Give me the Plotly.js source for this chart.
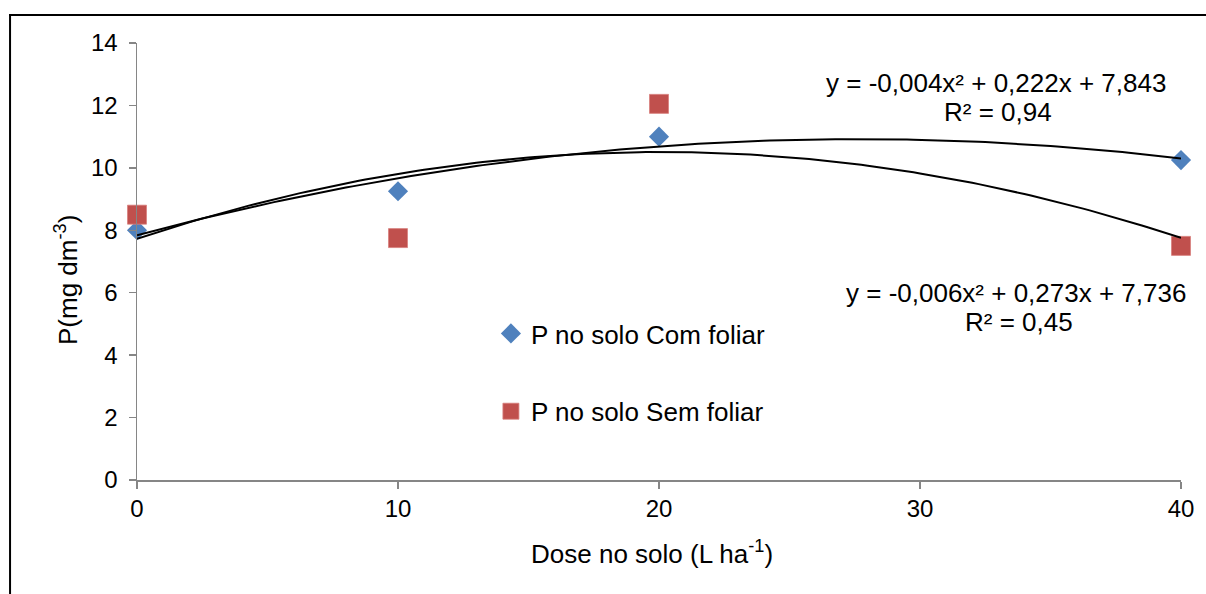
<!DOCTYPE html>
<html>
<head>
<meta charset="utf-8">
<script src="https://cdn.plot.ly/plotly-3.0.1.min.js"></script>
<style>
  html, body { margin: 0; padding: 0; background: #ffffff; }
  #chart { width: 1206px; height: 594px; }
</style>
</head>
<body>
<div id="chart"></div>
<script>
// ---- Data ----
const doses = [0, 10, 20, 40];
const comFoliar = [8.0, 9.25, 11.0, 10.25];
const semFoliar = [8.5, 7.75, 12.05, 7.5];
const seriesNames = ['P no solo Com foliar', 'P no solo Sem foliar'];
const eqComFoliar = ['y = -0,004x² + 0,222x + 7,843', 'R² = 0,94'];
const eqSemFoliar = ['y = -0,006x² + 0,273x + 7,736', 'R² = 0,45'];
const xTitle = 'Dose no solo (L ha<sup>-1</sup>)';
const yTitle = 'P(mg dm<sup>-3</sup>)';

// Quadratic least-squares fit (Excel polynomial trendline, order 2)
function quadFit(xs, ys) {
  let s0 = xs.length, s1 = 0, s2 = 0, s3 = 0, s4 = 0, t0 = 0, t1 = 0, t2 = 0;
  for (let i = 0; i < xs.length; i++) {
    const x = xs[i], y = ys[i];
    s1 += x; s2 += x * x; s3 += x ** 3; s4 += x ** 4;
    t0 += y; t1 += x * y; t2 += x * x * y;
  }
  const M = [[s0, s1, s2, t0], [s1, s2, s3, t1], [s2, s3, s4, t2]];
  for (let c = 0; c < 3; c++) {
    for (let r = c + 1; r < 3; r++) {
      const f = M[r][c] / M[c][c];
      for (let k = c; k < 4; k++) M[r][k] -= f * M[c][k];
    }
  }
  const sol = [0, 0, 0];
  for (let r = 2; r >= 0; r--) {
    let v = M[r][3];
    for (let k = r + 1; k < 3; k++) v -= M[r][k] * sol[k];
    sol[r] = v / M[r][r];
  }
  return sol; // a, b, c  -> a + b x + c x^2
}
function curve(xs, ys) {
  const [a, b, c] = quadFit(xs, ys);
  const lo = Math.min(...xs), hi = Math.max(...xs);
  const cx = [], cy = [];
  for (let i = 0; i <= 160; i++) {
    const x = lo + (hi - lo) * i / 160;
    cx.push(x); cy.push(a + b * x + c * x * x);
  }
  return {cx, cy};
}
const fitCom = curve(doses, comFoliar);
const fitSem = curve(doses, semFoliar);

const FONT = '"Liberation Sans", Arial, sans-serif';
const TXT = 26;
const traces = [
  {
    x: doses, y: comFoliar, type: 'scatter', mode: 'markers', name: seriesNames[0],
    legendgroup: 'a', cliponaxis: false,
    marker: {symbol: 'diamond', size: 15.5, color: '#4F81BD', line: {width: 0}}
  },
  {
    x: doses, y: semFoliar, type: 'scatter', mode: 'markers', name: seriesNames[1],
    legendgroup: 'b', cliponaxis: false,
    marker: {symbol: 'square', size: 19, color: '#C0504D', line: {width: 0.8, color: '#D8807E'}}
  },
  {
    x: fitCom.cx, y: fitCom.cy, type: 'scatter', mode: 'lines', showlegend: false,
    cliponaxis: false, hoverinfo: 'skip', line: {color: '#000000', width: 2}
  },
  {
    x: fitSem.cx, y: fitSem.cy, type: 'scatter', mode: 'lines', showlegend: false,
    cliponaxis: false, hoverinfo: 'skip', line: {color: '#000000', width: 2}
  }
];

const axisCommon = {
  showgrid: false, zeroline: false, showline: true, linecolor: '#868686', linewidth: 1.5,
  ticks: 'outside', ticklen: 7, tickwidth: 1.5, tickcolor: '#868686',
  tickfont: {family: FONT, size: 24, color: '#000000'}
};

function ann(x, y, text) {
  return {xref: 'x', yref: 'y', x: x, y: y, text: text, showarrow: false,
          xanchor: 'center', yanchor: 'middle',
          font: {family: FONT, size: TXT, color: '#000000'}};
}

const layout = {
  width: 1206, height: 594,
  margin: {l: 137, r: 25, t: 43, b: 114},
  paper_bgcolor: '#ffffff', plot_bgcolor: '#ffffff',
  font: {family: FONT, size: TXT, color: '#000000'},
  xaxis: Object.assign({}, axisCommon, {
    range: [0, 40], dtick: 10, tick0: 0
  }),
  yaxis: Object.assign({}, axisCommon, {
    range: [0, 14], dtick: 2, tick0: 0, ticklabelstandoff: 6
  }),
  showlegend: true,
  legend: {
    x: 0.339, xanchor: 'left', y: 0.389, yanchor: 'top',
    font: {family: FONT, size: TXT, color: '#000000'},
    bgcolor: 'rgba(0,0,0,0)', borderwidth: 0,
    tracegroupgap: 41, itemsizing: 'trace'
  },
  annotations: [
    ann(32.93, 12.72, eqComFoliar[0]),
    ann(32.98, 11.79, eqComFoliar[1]),
    ann(33.68, 5.99, eqSemFoliar[0]),
    ann(33.80, 5.06, eqSemFoliar[1]),
    {xref: 'paper', yref: 'paper', x: (652 - 137) / 1044, y: (480 - 552) / 437, text: xTitle,
     showarrow: false, xanchor: 'center', yanchor: 'middle',
     font: {family: FONT, size: TXT, color: '#000000'}},
    {xref: 'paper', yref: 'paper', x: (66 - 137) / 1044, y: (480 - 280) / 437, text: yTitle,
     textangle: -90, showarrow: false, xanchor: 'center', yanchor: 'middle',
     font: {family: FONT, size: TXT, color: '#000000'}}
  ],
  shapes: [
    {type: 'line', xref: 'paper', yref: 'paper', x0: -0.1216, x1: -0.1216, y0: -0.3, y1: 1.0641,
     line: {color: '#000000', width: 2}},
    {type: 'line', xref: 'paper', yref: 'paper', x0: -0.1226, x1: 1.05, y0: 1.0641, y1: 1.0641,
     line: {color: '#000000', width: 2}}
  ]
};

Plotly.newPlot('chart', traces, layout, {displayModeBar: false, staticPlot: true});
</script>
</body>
</html>
